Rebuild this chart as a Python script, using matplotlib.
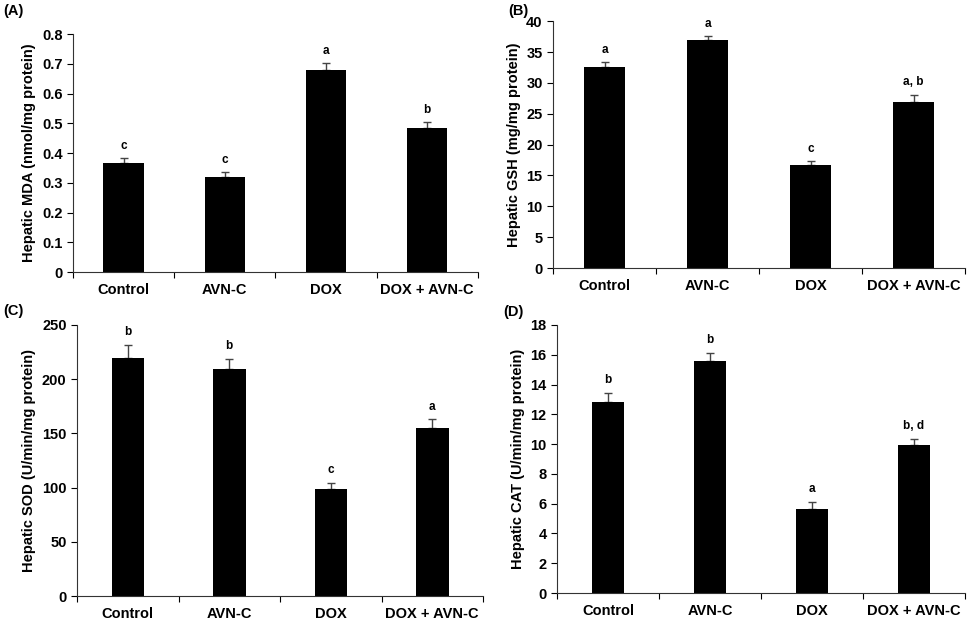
import matplotlib
matplotlib.use("Agg")
from matplotlib import pyplot as plt
import numpy as np

plt.rcParams['font.family'] = ['Liberation Sans', 'DejaVu Sans']
plt.rcParams['font.weight'] = 'bold'

groups = ['Control', 'AVN-C', 'DOX', 'DOX + AVN-C']

mda = [0.365, 0.32, 0.68, 0.485]
mda_err = [0.018, 0.017, 0.022, 0.02]
mda_sig = ['c', 'c', 'a', 'b']

gsh = [32.5, 36.9, 16.7, 26.9]
gsh_err = [0.9, 0.7, 0.6, 1.2]
gsh_sig = ['a', 'a', 'c', 'a, b']

sod = [220, 209, 99, 155]
sod_err = [12, 10, 5, 8]
sod_sig = ['b', 'b', 'c', 'a']

cat = [12.8, 15.55, 5.65, 9.95]
cat_err = [0.65, 0.6, 0.45, 0.4]
cat_sig = ['b', 'b', 'a', 'b, d']

panels = [
    ('(A)', mda, mda_err, mda_sig, 'Hepatic MDA (nmol/mg protein)', 0.8, 0.1, '{:.1f}', 0.40,
     [0.0753, 0.5627, 0.4177, 0.3826], (0.003, 0.982)),
    ('(B)', gsh, gsh_err, gsh_sig, 'Hepatic GSH (mg/mg protein)', 40, 5, '{:.0f}', 0.39,
     [0.5707, 0.569, 0.4252, 0.397], (0.524, 0.982)),
    ('(C)', sod, sod_err, sod_sig, 'Hepatic SOD (U/min/mg protein)', 250, 50, '{:.0f}', 0.32,
     [0.0795, 0.0418, 0.419, 0.4357], (0.003, 0.500)),
    ('(D)', cat, cat_err, cat_sig, 'Hepatic CAT (U/min/mg protein)', 18, 2, '{:.0f}', 0.31,
     [0.5748, 0.0466, 0.4211, 0.4309], (0.519, 0.498)),
]

fig = plt.figure(figsize=(9.69, 6.22), dpi=100)

for tag, vals, errs, sig, ylab, ymax, step, fmt, width, rect, tagpos in panels:
    ax = fig.add_axes(rect)
    x = np.arange(len(groups)) + 0.5
    ax.bar(x, vals, width=width, color='black', zorder=2)
    ax.errorbar(x, vals, yerr=[np.zeros(len(errs)), errs], fmt='none',
                ecolor='#444444', elinewidth=1, capsize=3, capthick=1, zorder=1)
    for xi, v, e, s in zip(x, vals, errs, sig):
        ax.text(xi, v + e + ymax * 0.025, s, ha='center', va='bottom',
                fontsize=8.5, fontweight='bold')
    ax.set_xlim(0, 4)
    ax.set_ylim(0, ymax)
    ticks = np.arange(0, ymax + step / 2, step)
    ax.set_yticks(ticks)
    ax.set_yticklabels(['0'] + [fmt.format(t) for t in ticks[1:]])
    ax.set_xticks([0, 1, 2, 3, 4])
    ax.set_xticklabels([])
    ax.set_xticks(x, minor=True)
    ax.set_xticklabels(groups, minor=True)
    ax.tick_params(axis='x', which='minor', length=0, pad=8, labelsize=10.5)
    ax.tick_params(axis='x', which='major', length=4, direction='out')
    ax.tick_params(axis='y', length=4, direction='out', labelsize=10.5)
    for lab in ax.get_xticklabels(minor=True) + ax.get_yticklabels():
        lab.set_fontweight('bold')
    ax.set_ylabel(ylab, fontsize=10.5, fontweight='bold')
    ax.spines['top'].set_visible(False)
    ax.spines['right'].set_visible(False)
    ax.spines['left'].set_color('#333333')
    ax.spines['bottom'].set_color('#333333')
    fig.text(tagpos[0], tagpos[1], tag, fontsize=10.5, fontweight='bold', va='center')

fig.savefig('out.png', dpi=100)
